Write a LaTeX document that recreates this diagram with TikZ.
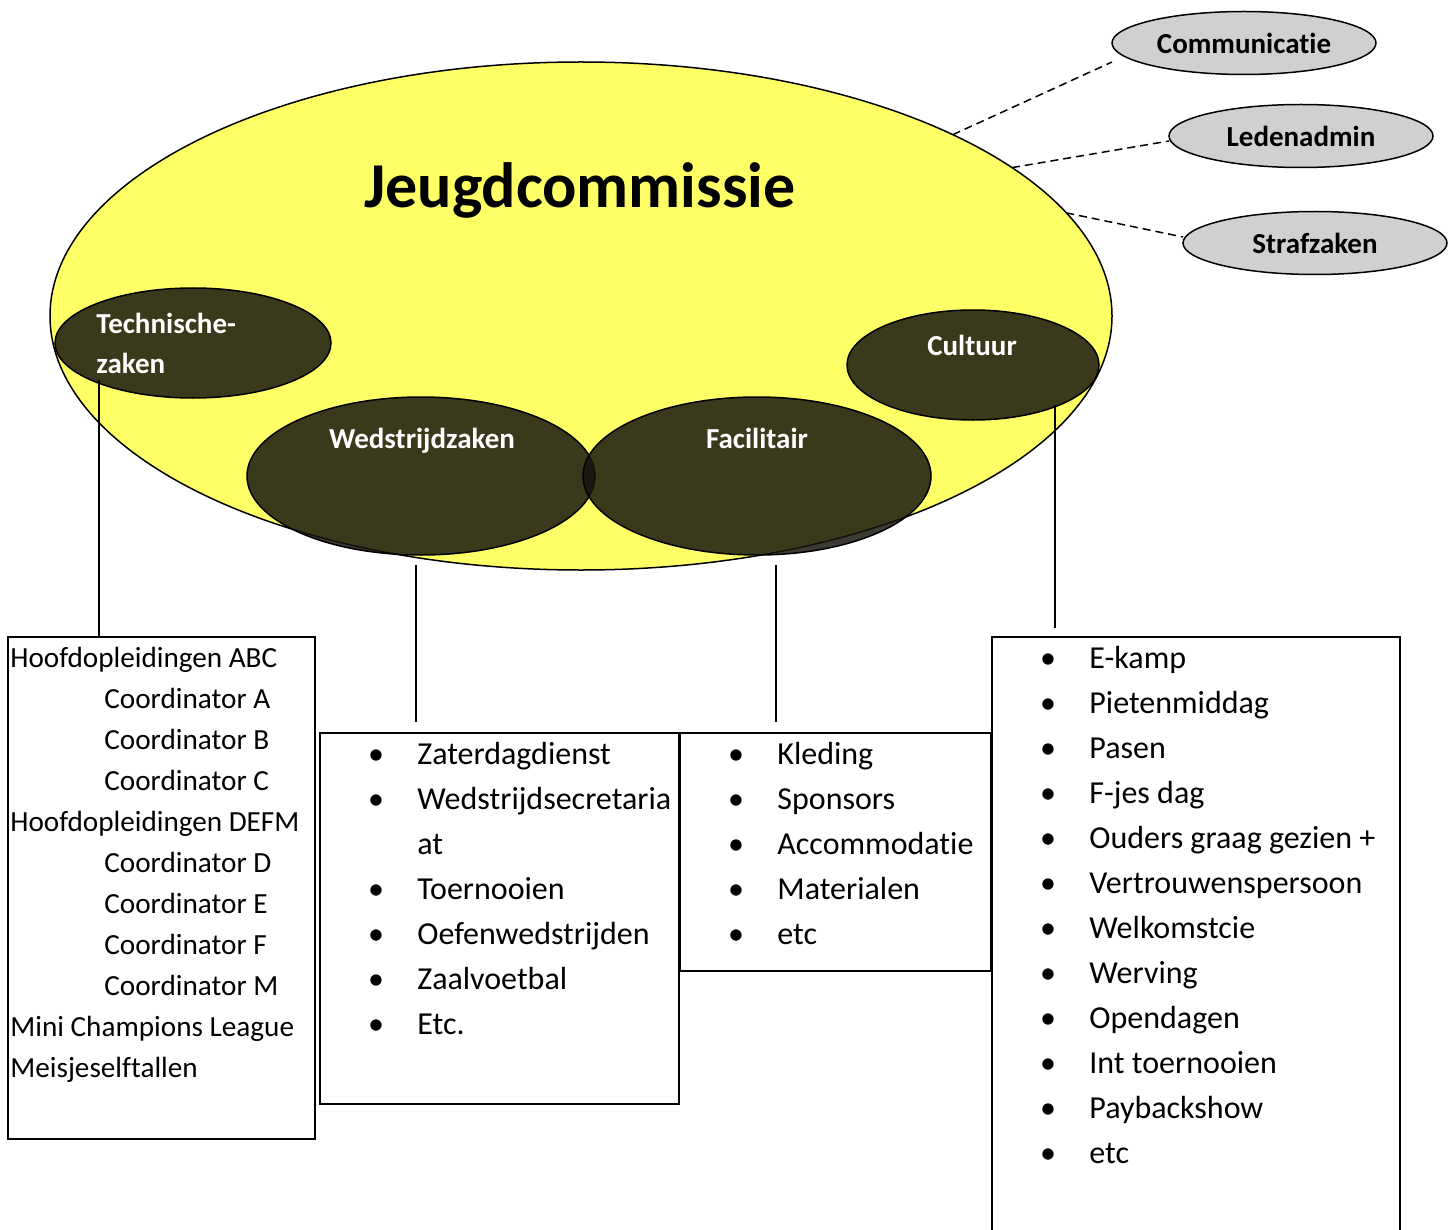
\documentclass[tikz,border=0pt]{standalone}
\usepackage{fontspec}
\setmainfont{Carlito}[Ligatures=NoCommon]
\usetikzlibrary{shapes.geometric}
\definecolor{jcyellow}{RGB}{255,255,102}
\definecolor{jcdark}{RGB}{22,20,13}
\definecolor{jcgrey}{RGB}{208,208,208}

\begin{document}
\begin{tikzpicture}[x=0.5pt,y=-0.5pt,
  blob/.style={ellipse,draw=black,line width=0.75pt,inner sep=0pt,outer sep=0pt},
  darkblob/.style={blob,fill=jcdark,fill opacity=0.84},
  darklabel/.style={text=white,inner sep=0pt,font=\fontsize{14.5}{17}\selectfont\bfseries},
  greyblob/.style={blob,fill=jcgrey,minimum width=132pt,minimum height=31.5pt,font=\fontsize{14.5}{17}\selectfont\bfseries},
  listbox/.style={draw=black,line width=0.9pt,inner sep=0pt,outer sep=0pt},
  item/.style={anchor=mid west,inner sep=0pt,font=\fontsize{16}{19}\selectfont},
  bullet/.style={anchor=mid,inner sep=0pt,font=\fontsize{16}{19}\selectfont},
  leftitem/.style={anchor=mid west,inner sep=0pt,font=\fontsize{14.6}{17}\selectfont},
  link/.style={line width=0.75pt},
  dashlink/.style={line width=0.75pt,dash pattern=on 4pt off 2.5pt}]

  \useasboundingbox (0,0) rectangle (1456,1230);
  \clip (0,0) rectangle (1456,1230);

  % commissie en werkgroepen
  \node [blob,fill=jcyellow,minimum width=531pt,minimum height=254pt] (jeugd) at (581,316) {};
  \node [font=\fontsize{32}{38}\selectfont\bfseries,inner sep=0pt] (title) at (580,190) {Jeugdcommissie};

  \node [darkblob,minimum width=138pt,minimum height=55pt] (tech) at (193,343) {};
  \node [darkblob,minimum width=126pt,minimum height=55pt] (cult) at (973,365) {};
  \node [darkblob,minimum width=174pt,minimum height=79pt] (wed) at (421,476) {};
  \node [darkblob,minimum width=174pt,minimum height=79pt] (fac) at (757,476) {};

  \node [darklabel,anchor=mid west] (techlbl) at (96,329) {Technische-};
  \node [darklabel,anchor=mid west] (techlbl2) at (96,369) {zaken};
  \node [darklabel,anchor=mid] (cultlbl) at (972,351) {Cultuur};
  \node [darklabel,anchor=mid] (wedlbl) at (422,444) {Wedstrijdzaken};
  \node [darklabel,anchor=mid] (faclbl) at (757,444) {Facilitair};

  % losse taken rechtsboven
  \node [greyblob] (comm) at (1244,43) {Communicatie};
  \node [greyblob] (leden) at (1301,136) {Ledenadmin};
  \node [greyblob] (straf) at (1315,243) {Strafzaken};

  \draw [dashlink] (jeugd.26.5) -- ([yshift=-9.5pt]comm.west);
  \draw [dashlink] (jeugd.19.2) -- ([yshift=-2.5pt]leden.west);
  \draw [dashlink] (jeugd.12.1) -- ([yshift=3pt]straf.west);

  % lijsten
  \node [listbox,minimum width=153.5pt,minimum height=251pt] (techbox) at (161.5,888) {};
  \node [listbox,minimum width=179.5pt,minimum height=185.5pt] (wedbox) at (499.5,918.5) {};
  \node [listbox,minimum width=155.5pt,minimum height=119pt] (facbox) at (835.5,852) {};
  \node [listbox,minimum width=204pt,minimum height=311.5pt] (cultbox) at (1196,948.5) {};

  \draw [link] ([xshift=-47pt,yshift=9pt]tech.south) -- ([xshift=-47pt]tech.south |- techbox.north);
  \draw [link] ([xshift=-2.5pt,yshift=-5pt]wed.south) -- ([xshift=-2.5pt,yshift=5.5pt]wed.south |- wedbox.north);
  \draw [link] ([xshift=9.5pt,yshift=-5pt]fac.south) -- ([xshift=9.5pt,yshift=5.5pt]fac.south |- facbox.north);
  \draw [link] ([xshift=41pt,yshift=7.5pt]cult.south) -- ([xshift=41pt,yshift=4.5pt]cult.south |- cultbox.north);

  \foreach \x/\txt [count=\i] in {10/Hoofdopleidingen ABC,104/Coordinator A,104/Coordinator B,104/Coordinator C,
      10/Hoofdopleidingen DEFM,104/Coordinator D,104/Coordinator E,104/Coordinator F,104/Coordinator M,
      10/Mini Champions League,10/Meisjeselftallen}
    \node [leftitem] (t\i) at (\x,{622+41*\i}) {\txt};

  \foreach \txt [count=\i] in {Zaterdagdienst,Wedstrijdsecretaria,at,Toernooien,Oefenwedstrijden,Zaalvoetbal,Etc.}
    \node [item] (w\i) at (417,{715+45*\i}) {\txt};
  \foreach \i in {1,2,4,5,6,7}
    \node [bullet] (wb\i) at (376,{715+45*\i}) {•};

  \foreach \txt [count=\i] in {Kleding,Sponsors,Accommodatie,Materialen,etc} {
    \node [item] (f\i) at (777,{715+45*\i}) {\txt};
    \node [bullet] (fb\i) at (736,{715+45*\i}) {•};
  }

  \foreach \txt [count=\i] in {E-kamp,Pietenmiddag,Pasen,F-jes dag,Ouders graag gezien +,Vertrouwenspersoon,
      Welkomstcie,Werving,Opendagen,Int toernooien,Paybackshow,etc} {
    \node [item] (c\i) at (1089,{619+45*\i}) {\txt};
    \node [bullet] (cb\i) at (1048,{619+45*\i}) {•};
  }
\end{tikzpicture}
\end{document}
